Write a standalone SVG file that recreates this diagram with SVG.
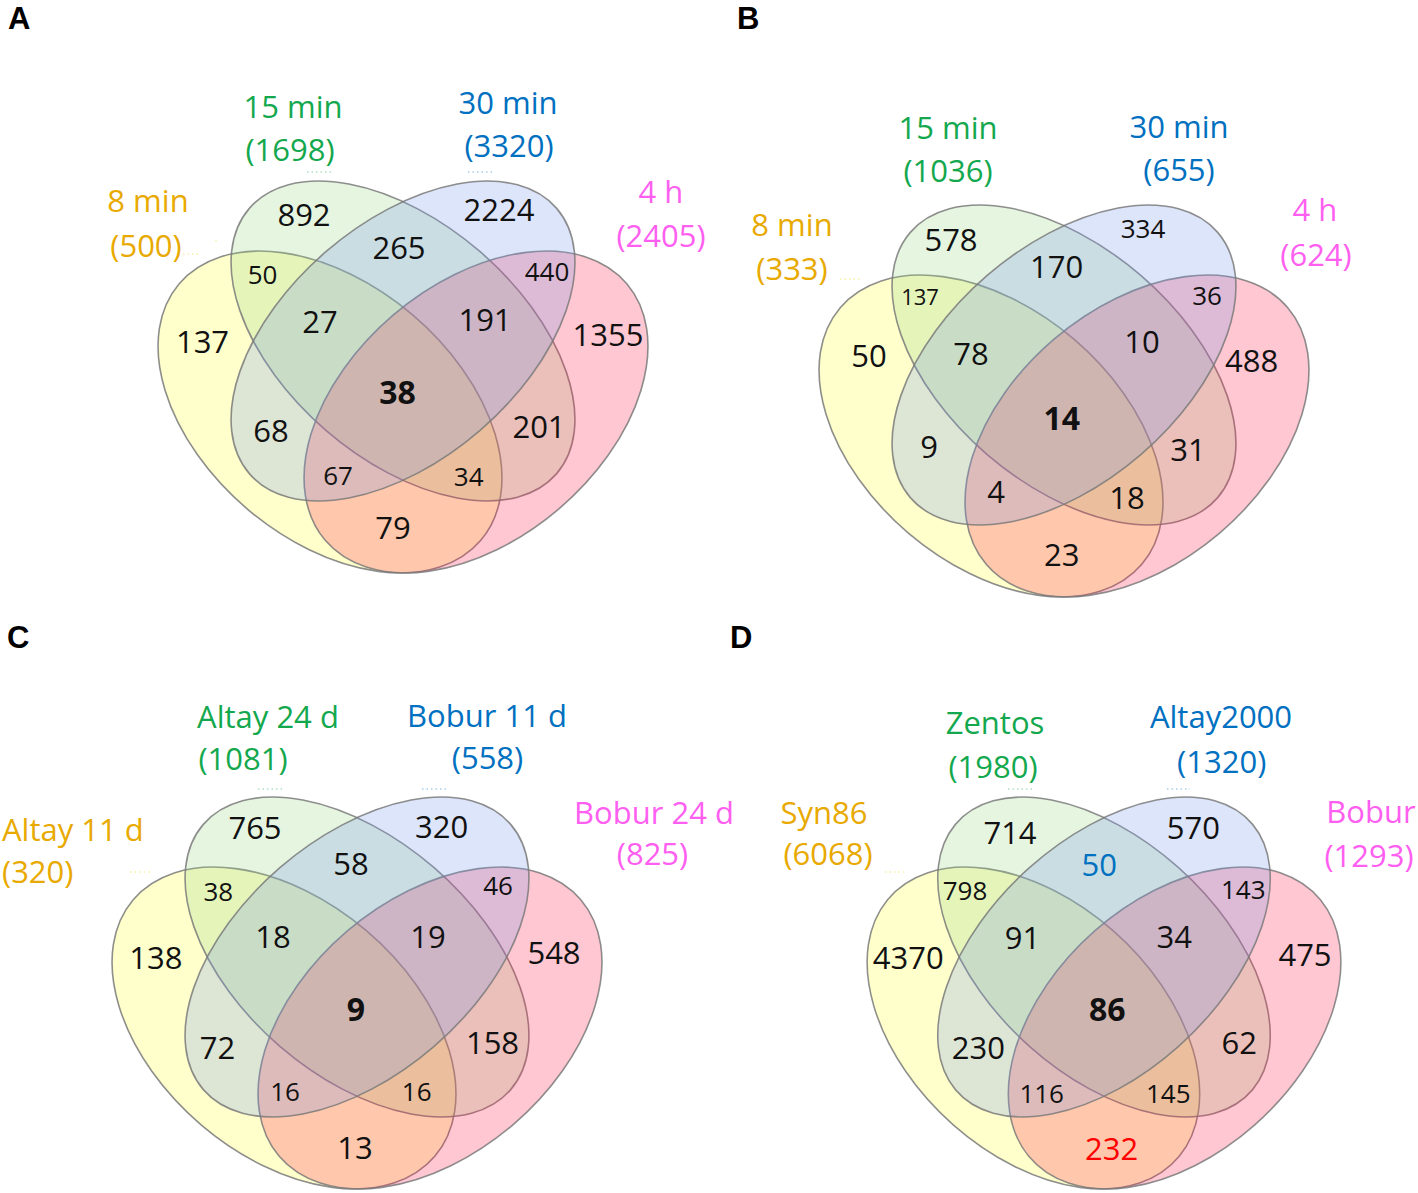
<svg xmlns="http://www.w3.org/2000/svg" width="1418" height="1193" viewBox="0 0 1418 1193">
<style>
.el{stroke:#7a7a7a;stroke-width:1.6;stroke-opacity:0.85}
.fy{fill:#FFFF33;fill-opacity:0.25}
.fg{fill:#97D783;fill-opacity:0.25}
.fb{fill:#7797EB;fill-opacity:0.25}
.fp{fill:#FF1F47;fill-opacity:0.25}
text{font-family:"Open Sans","Liberation Sans",sans-serif;text-anchor:middle}
.n{font-size:31px;fill:#111}
.s{font-size:26px;fill:#111}
.xs{font-size:22px;fill:#111}
.bd{font-size:32px;font-weight:700;fill:#111}
.t{font-size:31px}
.cy{fill:#E8A900}
.cg{fill:#14A84E}
.cb{fill:#0070C0}
.cp{fill:#FF5FF0}
.cr{fill:#FF0000}
.pl{font-family:"Liberation Sans",Arial,sans-serif;font-size:31px;font-weight:700;fill:#000;text-anchor:start}
.ld{fill:none;stroke-width:1.5;stroke-dasharray:1.5 3;stroke-opacity:0.35}
</style>
<defs>
<ellipse id="eY" class="el fy" cx="-73" cy="71" rx="198" ry="127.5" transform="rotate(40.4 -73 71)"/>
<ellipse id="eP" class="el fp" cx="73" cy="71" rx="198" ry="127.5" transform="rotate(-40.4 73 71)"/>
<ellipse id="eG" class="el fg" cx="0" cy="0" rx="203" ry="118" transform="rotate(40.8)"/>
<ellipse id="eB" class="el fb" cx="0" cy="0" rx="203" ry="118" transform="rotate(-40.8)"/>
</defs>
<rect width="1418" height="1193" fill="#fff"/>

<!-- Panel A -->
<g id="panel-A">
<text class="pl" x="8" y="29">A</text>
<g id="A-set-8min"><use href="#eY" transform="translate(403,341)"/><text class="t cy" x="148" y="212">8 min</text><text class="t cy" x="146" y="257">(500)</text></g>
<g id="A-set-15min"><use href="#eG" transform="translate(403,341)"/><text class="t cg" x="293" y="118">15 min</text><text class="t cg" x="290" y="161">(1698)</text></g>
<g id="A-set-4h"><use href="#eP" transform="translate(403,341)"/><text class="t cp" x="661" y="203">4 h</text><text class="t cp" x="661" y="246.5">(2405)</text></g>
<g id="A-set-30min"><use href="#eB" transform="translate(403,341)"/><text class="t cb" x="508" y="114">30 min</text><text class="t cb" x="509" y="157">(3320)</text></g>
<g id="A-counts">
<text class="n" x="304" y="225.5">892</text>
<text class="n" x="499" y="221">2224</text>
<text class="s" x="262.5" y="284.3">50</text>
<text class="n" x="399" y="259">265</text>
<text class="s" x="547" y="280.8">440</text>
<text class="n" x="202.5" y="352.5">137</text>
<text class="n" x="320" y="332.7">27</text>
<text class="n" x="485" y="331">191</text>
<text class="n" x="608" y="346">1355</text>
<text class="bd" x="397.5" y="404.4">38</text>
<text class="n" x="271" y="441.8">68</text>
<text class="n" x="539" y="437.7">201</text>
<text class="s" x="338" y="485.1">67</text>
<text class="s" x="468.7" y="485.6">34</text>
<text class="n" x="393" y="539">79</text>
</g>
</g>

<!-- Panel B -->
<g id="panel-B">
<text class="pl" x="737" y="29">B</text>
<g id="B-set-8min"><use href="#eY" transform="translate(1064,365)"/><text class="t cy" x="792" y="236">8 min</text><text class="t cy" x="792" y="280">(333)</text></g>
<g id="B-set-15min"><use href="#eG" transform="translate(1064,365)"/><text class="t cg" x="948" y="139">15 min</text><text class="t cg" x="948" y="182">(1036)</text></g>
<g id="B-set-4h"><use href="#eP" transform="translate(1064,365)"/><text class="t cp" x="1315" y="221">4 h</text><text class="t cp" x="1316" y="266">(624)</text></g>
<g id="B-set-30min"><use href="#eB" transform="translate(1064,365)"/><text class="t cb" x="1179" y="138">30 min</text><text class="t cb" x="1179" y="181">(655)</text></g>
<g id="B-counts">
<text class="n" x="951" y="251">578</text>
<text class="n" x="1056.7" y="277.7">170</text>
<text class="xs" x="920" y="304.6">137</text>
<text class="s" x="1143" y="238.3">334</text>
<text class="s" x="1207" y="305.3">36</text>
<text class="n" x="1251.7" y="372">488</text>
<text class="n" x="869" y="367">50</text>
<text class="n" x="971" y="365">78</text>
<text class="n" x="1142" y="353">10</text>
<text class="bd" x="1061.7" y="430.4">14</text>
<text class="n" x="929" y="458">9</text>
<text class="n" x="996" y="503">4</text>
<text class="n" x="1188" y="461">31</text>
<text class="n" x="1127" y="509">18</text>
<text class="n" x="1061.7" y="566">23</text>
</g>
</g>

<!-- Panel C -->
<g id="panel-C">
<text class="pl" x="7" y="648">C</text>
<g id="C-set-altay11"><use href="#eY" transform="translate(357,957)"/><text class="t cy" x="2" y="841" style="text-anchor:start">Altay 11 d</text><text class="t cy" x="2" y="883" style="text-anchor:start">(320)</text></g>
<g id="C-set-altay24"><use href="#eG" transform="translate(357,957)"/><text class="t cg" x="268" y="728">Altay 24 d</text><text class="t cg" x="243" y="770">(1081)</text></g>
<g id="C-set-bobur24"><use href="#eP" transform="translate(357,957)"/><text class="t cp" x="654" y="823.5">Bobur 24 d</text><text class="t cp" x="652.5" y="865">(825)</text></g>
<g id="C-set-bobur11"><use href="#eB" transform="translate(357,957)"/><text class="t cb" x="487" y="727">Bobur 11 d</text><text class="t cb" x="487.5" y="769">(558)</text></g>
<g id="C-counts">
<text class="n" x="255" y="839.3">765</text>
<text class="n" x="441.7" y="837.7">320</text>
<text class="n" x="351" y="875">58</text>
<text class="s" x="218.3" y="901">38</text>
<text class="s" x="498" y="895.3">46</text>
<text class="n" x="273" y="948">18</text>
<text class="n" x="428" y="947.7">19</text>
<text class="n" x="155.8" y="969">138</text>
<text class="n" x="554" y="964">548</text>
<text class="bd" x="355.8" y="1021.4">9</text>
<text class="n" x="217.5" y="1059">72</text>
<text class="n" x="492.5" y="1054">158</text>
<text class="s" x="285" y="1101">16</text>
<text class="s" x="416.7" y="1101">16</text>
<text class="n" x="355" y="1158.5">13</text>
</g>
</g>

<!-- Panel D -->
<g id="panel-D">
<text class="pl" x="730" y="648">D</text>
<g id="D-set-syn86"><use href="#eY" transform="translate(1104,957) scale(0.967,1)"/><text class="t cy" x="824" y="823.5">Syn86</text><text class="t cy" x="828" y="865">(6068)</text></g>
<g id="D-set-zentos"><use href="#eG" transform="translate(1104,957) scale(0.967,1)"/><text class="t cg" x="995" y="734">Zentos</text><text class="t cg" x="993" y="777.7">(1980)</text></g>
<g id="D-set-bobur"><use href="#eP" transform="translate(1104,957) scale(0.967,1)"/><text class="t cp" x="1371" y="823">Bobur</text><text class="t cp" x="1369" y="867">(1293)</text></g>
<g id="D-set-altay2000"><use href="#eB" transform="translate(1104,957) scale(0.967,1)"/><text class="t cb" x="1221" y="728">Altay2000</text><text class="t cb" x="1221.7" y="772.7">(1320)</text></g>
<g id="D-counts">
<text class="n" x="1010" y="843.5">714</text>
<text class="n" x="1193.3" y="838.5">570</text>
<text class="n cb" x="1099.2" y="876">50</text>
<text class="s" x="965" y="900.1">798</text>
<text class="s" x="1243.3" y="898.5">143</text>
<text class="n" x="1022.5" y="949.3">91</text>
<text class="n" x="1174.2" y="948.2">34</text>
<text class="n" x="908.3" y="969.3">4370</text>
<text class="n" x="1305" y="966">475</text>
<text class="bd" x="1107.2" y="1021.4">86</text>
<text class="n" x="978.3" y="1059.3">230</text>
<text class="n" x="1239.2" y="1054.3">62</text>
<text class="s" x="1041.7" y="1102.6">116</text>
<text class="s" x="1168.3" y="1102.6">145</text>
<text class="n cr" x="1111.7" y="1160.2">232</text>
</g>
</g>

<g id="connectors">
<path class="ld" stroke="#E8D000" d="M183 254H200M216 240v2"/>
<path class="ld" stroke="#14A84E" d="M307 172H332"/>
<path class="ld" stroke="#0070C0" d="M468 172H493"/>
<path class="ld" stroke="#E8D000" d="M840 279H862"/>
<path class="ld" stroke="#14A84E" d="M258 789H283"/>
<path class="ld" stroke="#0070C0" d="M422 789H447"/>
<path class="ld" stroke="#E8D000" d="M130 872H150"/>
<path class="ld" stroke="#14A84E" d="M1008 789H1033"/>
<path class="ld" stroke="#0070C0" d="M1167 789H1190"/>
<path class="ld" stroke="#E8D000" d="M885 872H905"/>
</g>
</svg>
